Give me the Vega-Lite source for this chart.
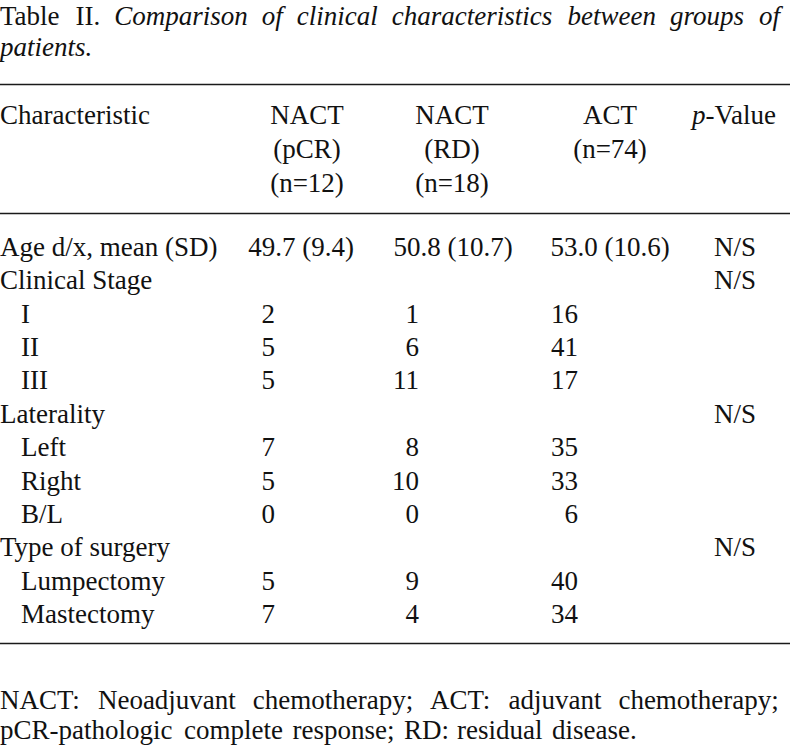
{
  "$schema": "https://vega.github.io/schema/vega-lite/v6.json",
  "width": 790,
  "height": 745,
  "autosize": "none",
  "padding": 0,
  "background": "white",
  "config": {
    "view": {"stroke": null},
    "text": {"font": "Liberation Serif", "fontSize": 27, "color": "#111111", "baseline": "alphabetic"}
  },
  "datasets": {
    "title": [
      {"line": 1, "word": 1, "text": "Table", "part": "label"},
      {"line": 1, "word": 2, "text": "II.", "part": "label"},
      {"line": 1, "word": 3, "text": "Comparison", "part": "caption"},
      {"line": 1, "word": 4, "text": "of", "part": "caption"},
      {"line": 1, "word": 5, "text": "clinical", "part": "caption"},
      {"line": 1, "word": 6, "text": "characteristics", "part": "caption"},
      {"line": 1, "word": 7, "text": "between", "part": "caption"},
      {"line": 1, "word": 8, "text": "groups", "part": "caption"},
      {"line": 1, "word": 9, "text": "of", "part": "caption"},
      {"line": 2, "word": 1, "text": "patients.", "part": "caption"}
    ],
    "rules": [{"rule": 1}, {"rule": 2}, {"rule": 3}],
    "header": [
      {"line": 1, "col": 0, "text": "Characteristic", "piece": "word"},
      {"line": 1, "col": 1, "text": "NACT", "piece": "word"},
      {"line": 2, "col": 1, "text": "(pCR)", "piece": "word"},
      {"line": 3, "col": 1, "text": "(n=12)", "piece": "word"},
      {"line": 1, "col": 2, "text": "NACT", "piece": "word"},
      {"line": 2, "col": 2, "text": "(RD)", "piece": "word"},
      {"line": 3, "col": 2, "text": "(n=18)", "piece": "word"},
      {"line": 1, "col": 3, "text": "ACT", "piece": "word"},
      {"line": 2, "col": 3, "text": "(n=74)", "piece": "word"},
      {"line": 1, "col": 4, "text": "p", "piece": "symbol"},
      {"line": 1, "col": 4, "text": "-Value", "piece": "word"}
    ],
    "rows": [
      {"row": 1, "label": "Age d/x, mean (SD)", "level": 0},
      {"row": 2, "label": "Clinical Stage", "level": 0},
      {"row": 3, "label": "I", "level": 1},
      {"row": 4, "label": "II", "level": 1},
      {"row": 5, "label": "III", "level": 1},
      {"row": 6, "label": "Laterality", "level": 0},
      {"row": 7, "label": "Left", "level": 1},
      {"row": 8, "label": "Right", "level": 1},
      {"row": 9, "label": "B/L", "level": 1},
      {"row": 10, "label": "Type of surgery", "level": 0},
      {"row": 11, "label": "Lumpectomy", "level": 1},
      {"row": 12, "label": "Mastectomy", "level": 1}
    ],
    "cells": [
      {"row": 1, "col": 1, "value": "49.7 (9.4)", "measure": "mean (SD)"},
      {"row": 1, "col": 2, "value": "50.8 (10.7)", "measure": "mean (SD)"},
      {"row": 1, "col": 3, "value": "53.0 (10.6)", "measure": "mean (SD)"},
      {"row": 1, "col": 4, "value": "N/S", "measure": "p"},
      {"row": 2, "col": 4, "value": "N/S", "measure": "p"},
      {"row": 3, "col": 1, "value": "2", "measure": "count"},
      {"row": 3, "col": 2, "value": "1", "measure": "count"},
      {"row": 3, "col": 3, "value": "16", "measure": "count"},
      {"row": 4, "col": 1, "value": "5", "measure": "count"},
      {"row": 4, "col": 2, "value": "6", "measure": "count"},
      {"row": 4, "col": 3, "value": "41", "measure": "count"},
      {"row": 5, "col": 1, "value": "5", "measure": "count"},
      {"row": 5, "col": 2, "value": "11", "measure": "count"},
      {"row": 5, "col": 3, "value": "17", "measure": "count"},
      {"row": 6, "col": 4, "value": "N/S", "measure": "p"},
      {"row": 7, "col": 1, "value": "7", "measure": "count"},
      {"row": 7, "col": 2, "value": "8", "measure": "count"},
      {"row": 7, "col": 3, "value": "35", "measure": "count"},
      {"row": 8, "col": 1, "value": "5", "measure": "count"},
      {"row": 8, "col": 2, "value": "10", "measure": "count"},
      {"row": 8, "col": 3, "value": "33", "measure": "count"},
      {"row": 9, "col": 1, "value": "0", "measure": "count"},
      {"row": 9, "col": 2, "value": "0", "measure": "count"},
      {"row": 9, "col": 3, "value": "6", "measure": "count"},
      {"row": 10, "col": 4, "value": "N/S", "measure": "p"},
      {"row": 11, "col": 1, "value": "5", "measure": "count"},
      {"row": 11, "col": 2, "value": "9", "measure": "count"},
      {"row": 11, "col": 3, "value": "40", "measure": "count"},
      {"row": 12, "col": 1, "value": "7", "measure": "count"},
      {"row": 12, "col": 2, "value": "4", "measure": "count"},
      {"row": 12, "col": 3, "value": "34", "measure": "count"}
    ],
    "footer": [
      {"line": 1, "word": 1, "text": "NACT:"},
      {"line": 1, "word": 2, "text": "Neoadjuvant"},
      {"line": 1, "word": 3, "text": "chemotherapy;"},
      {"line": 1, "word": 4, "text": "ACT:"},
      {"line": 1, "word": 5, "text": "adjuvant"},
      {"line": 1, "word": 6, "text": "chemotherapy;"},
      {"line": 2, "word": 1, "text": "pCR-pathologic"},
      {"line": 2, "word": 2, "text": "complete"},
      {"line": 2, "word": 3, "text": "response;"},
      {"line": 2, "word": 4, "text": "RD:"},
      {"line": 2, "word": 5, "text": "residual"},
      {"line": 2, "word": 6, "text": "disease."}
    ]
  },
  "layer": [
    {
      "data": {"name": "rules"},
      "mark": {"type": "rule", "color": "#1a1a1a", "strokeWidth": 1.7},
      "encoding": {
        "y": {"field": "rule", "type": "quantitative", "axis": null,
              "scale": {"domain": [1, 2, 3], "range": [84.5, 213.5, 643.5], "zero": false, "nice": false}}
      }
    },
    {
      "data": {"name": "title"},
      "transform": [{"filter": "datum.part == 'label'"}],
      "mark": {"type": "text", "align": "left"},
      "encoding": {
        "x": {"field": "word", "type": "quantitative", "axis": null,
              "scale": {"domain": [1, 2, 3, 4, 5, 6, 7, 8, 9], "range": [0, 75.5, 114.2, 261.7, 296.7, 391.7, 567.6, 670.1, 759.1], "zero": false, "nice": false}},
        "y": {"field": "line", "type": "quantitative", "axis": null,
              "scale": {"domain": [1, 2], "range": [25, 56], "zero": false, "nice": false}},
        "text": {"field": "text"}
      }
    },
    {
      "data": {"name": "title"},
      "transform": [{"filter": "datum.part == 'caption'"}],
      "mark": {"type": "text", "align": "left", "fontStyle": "italic"},
      "encoding": {
        "x": {"field": "word", "type": "quantitative", "axis": null,
              "scale": {"domain": [1, 2, 3, 4, 5, 6, 7, 8, 9], "range": [0, 75.5, 114.2, 261.7, 296.7, 391.7, 567.6, 670.1, 759.1], "zero": false, "nice": false}},
        "y": {"field": "line", "type": "quantitative", "axis": null,
              "scale": {"domain": [1, 2], "range": [25, 56], "zero": false, "nice": false}},
        "text": {"field": "text"}
      }
    },
    {
      "data": {"name": "header"},
      "transform": [{"filter": "datum.col == 0"}],
      "mark": {"type": "text", "align": "left"},
      "encoding": {
        "x": {"field": "col", "type": "quantitative", "axis": null,
              "scale": {"domain": [0, 1], "range": [0, 307], "zero": false, "nice": false}},
        "y": {"field": "line", "type": "quantitative", "axis": null,
              "scale": {"domain": [1, 3], "range": [124, 192], "zero": false, "nice": false}},
        "text": {"field": "text"}
      }
    },
    {
      "data": {"name": "header"},
      "transform": [{"filter": "datum.col >= 1 && datum.col <= 3"}],
      "mark": {"type": "text", "align": "center"},
      "encoding": {
        "x": {"field": "col", "type": "quantitative", "axis": null,
              "scale": {"domain": [1, 2, 3], "range": [307, 452, 610], "zero": false, "nice": false}},
        "y": {"field": "line", "type": "quantitative", "axis": null,
              "scale": {"domain": [1, 3], "range": [124, 192], "zero": false, "nice": false}},
        "text": {"field": "text"}
      }
    },
    {
      "data": {"name": "header"},
      "transform": [{"filter": "datum.col == 4 && datum.piece == 'symbol'"}],
      "mark": {"type": "text", "align": "left", "fontStyle": "italic"},
      "encoding": {
        "x": {"field": "col", "type": "quantitative", "axis": null,
              "scale": {"domain": [0, 4], "range": [0, 692], "zero": false, "nice": false}},
        "y": {"field": "line", "type": "quantitative", "axis": null,
              "scale": {"domain": [1, 3], "range": [124, 192], "zero": false, "nice": false}},
        "text": {"field": "text"}
      }
    },
    {
      "data": {"name": "header"},
      "transform": [{"filter": "datum.col == 4 && datum.piece == 'word'"}],
      "mark": {"type": "text", "align": "left"},
      "encoding": {
        "x": {"field": "col", "type": "quantitative", "axis": null,
              "scale": {"domain": [0, 4], "range": [0, 705.5], "zero": false, "nice": false}},
        "y": {"field": "line", "type": "quantitative", "axis": null,
              "scale": {"domain": [1, 3], "range": [124, 192], "zero": false, "nice": false}},
        "text": {"field": "text"}
      }
    },
    {
      "data": {"name": "rows"},
      "mark": {"type": "text", "align": "left"},
      "encoding": {
        "x": {"field": "level", "type": "quantitative", "axis": null,
              "scale": {"domain": [0, 1], "range": [0, 21], "zero": false, "nice": false}},
        "y": {"field": "row", "type": "quantitative", "axis": null,
              "scale": {"domain": [1, 12], "range": [256, 623], "zero": false, "nice": false}},
        "text": {"field": "label"}
      }
    },
    {
      "data": {"name": "cells"},
      "transform": [{"filter": "datum.measure == 'mean (SD)'"}],
      "mark": {"type": "text", "align": "center"},
      "encoding": {
        "x": {"field": "col", "type": "quantitative", "axis": null,
              "scale": {"domain": [1, 2, 3], "range": [301, 453, 610], "zero": false, "nice": false}},
        "y": {"field": "row", "type": "quantitative", "axis": null,
              "scale": {"domain": [1, 12], "range": [256, 623], "zero": false, "nice": false}},
        "text": {"field": "value"}
      }
    },
    {
      "data": {"name": "cells"},
      "transform": [{"filter": "datum.measure == 'count'"}],
      "mark": {"type": "text", "align": "right"},
      "encoding": {
        "x": {"field": "col", "type": "quantitative", "axis": null,
              "scale": {"domain": [1, 2, 3], "range": [275, 419, 578], "zero": false, "nice": false}},
        "y": {"field": "row", "type": "quantitative", "axis": null,
              "scale": {"domain": [1, 12], "range": [256, 623], "zero": false, "nice": false}},
        "text": {"field": "value"}
      }
    },
    {
      "data": {"name": "cells"},
      "transform": [{"filter": "datum.measure == 'p'"}],
      "mark": {"type": "text", "align": "center"},
      "encoding": {
        "x": {"field": "col", "type": "quantitative", "axis": null,
              "scale": {"domain": [0, 4], "range": [0, 735], "zero": false, "nice": false}},
        "y": {"field": "row", "type": "quantitative", "axis": null,
              "scale": {"domain": [1, 12], "range": [256, 623], "zero": false, "nice": false}},
        "text": {"field": "value"}
      }
    },
    {
      "data": {"name": "footer"},
      "transform": [{"filter": "datum.line == 1"}],
      "mark": {"type": "text", "align": "left"},
      "encoding": {
        "x": {"field": "word", "type": "quantitative", "axis": null,
              "scale": {"domain": [1, 2, 3, 4, 5, 6], "range": [0, 97.9, 252.8, 430.1, 508.5, 618.4], "zero": false, "nice": false}},
        "y": {"field": "line", "type": "quantitative", "axis": null,
              "scale": {"domain": [1, 2], "range": [709, 739], "zero": false, "nice": false}},
        "text": {"field": "text"}
      }
    },
    {
      "data": {"name": "footer"},
      "transform": [{"filter": "datum.line == 2"}],
      "mark": {"type": "text", "align": "left"},
      "encoding": {
        "x": {"field": "word", "type": "quantitative", "axis": null,
              "scale": {"domain": [1, 2, 3, 4, 5, 6], "range": [0, 184, 292.5, 404, 457, 552], "zero": false, "nice": false}},
        "y": {"field": "line", "type": "quantitative", "axis": null,
              "scale": {"domain": [1, 2], "range": [709, 739], "zero": false, "nice": false}},
        "text": {"field": "text"}
      }
    }
  ],
  "resolve": {"scale": {"x": "independent", "y": "independent"}}
}
